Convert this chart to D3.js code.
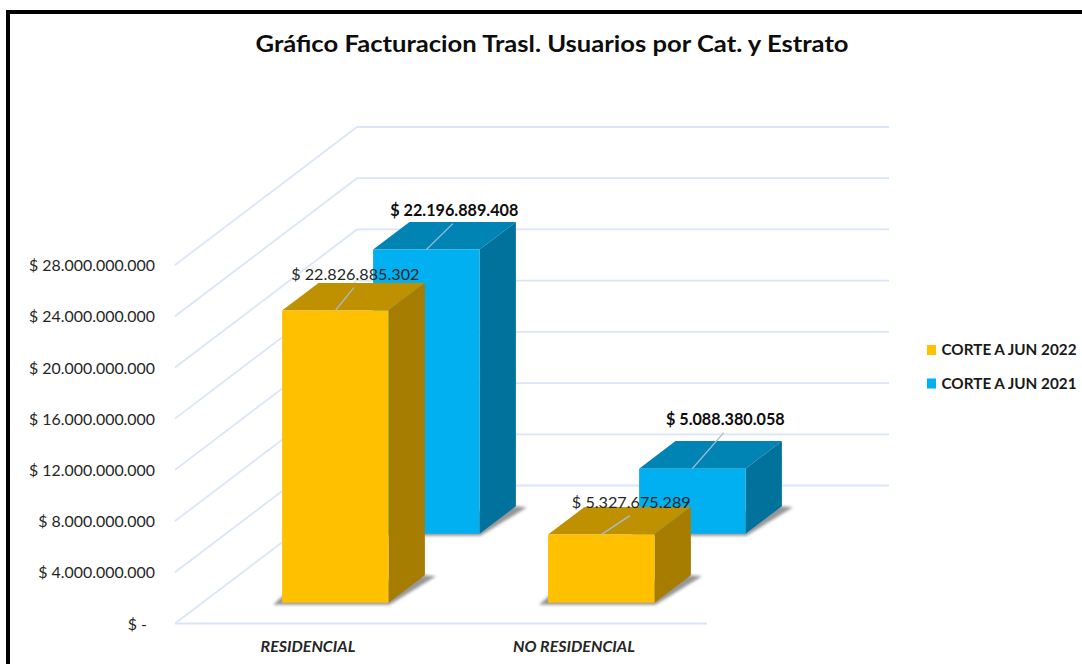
<!DOCTYPE html>
<html>
<head>
<meta charset="utf-8">
<script src="https://cdn.jsdelivr.net/npm/d3@7"></script>
<style>
html,body{margin:0;padding:0;background:#fff;overflow:hidden}
svg{display:block}
text{font-family:Lato,"Open Sans",sans-serif;fill:#262626}
</style>
</head>
<body>
<svg id="chart" width="1082" height="664"></svg>
<script>
const title = "Gráfico Facturacion Trasl. Usuarios por Cat. y Estrato";
const categories = ["RESIDENCIAL", "NO RESIDENCIAL"];
const seriesNames = ["CORTE A JUN 2022", "CORTE A JUN 2021"];
const valuesJun2022 = [22826885302, 5327675289];
const valuesJun2021 = [22196889408, 5088380058];
const tickValues = [0, 4e9, 8e9, 12e9, 16e9, 20e9, 24e9, 28e9];
const seriesColors = ["#FFC000", "#00B0F0"];
const topColors = ["#BF9000", "#0084B4"];
const sideColors = ["#A67D00", "#00729C"];

const svg = d3.select("#chart");
const plot = {left: 175, right: 707, floor: 623.5, top: 265, depthX: 182, depthY: 138};
const depthFill = 0.4, widthFill = 0.4;

const x = d3.scaleBand().domain(categories).range([plot.left, plot.right]);
const z = d3.scaleBand().domain(seriesNames).range([0, 1]);
const y = d3.scaleLinear().domain([0, 28e9]).range([plot.floor, plot.top]);

// 3D oblique projection: x pixel, value, depth fraction
const proj = (px, v, d) => [px + plot.depthX * d, y(v) - plot.depthY * d];
const pts = a => a.map(p => p.join(",")).join(" ");

// frame
svg.append("path").attr("d", "M8,664V12H1082").attr("fill", "none").attr("stroke", "#000").attr("stroke-width", 4);

// title
svg.append("text").attr("x", 552).attr("y", 52).attr("text-anchor", "middle")
  .attr("font-size", 23).attr("font-weight", 700).style("fill", "#0d0d0d")
  .attr("textLength", 593).attr("lengthAdjust", "spacingAndGlyphs").text(title);

// gridlines
const gridColor = "#DAE6F7";
const grid = svg.append("g").attr("fill", "none").attr("stroke", gridColor).attr("stroke-width", 1.8);
tickValues.forEach(t => {
  const a = proj(plot.left, t, 0), b = proj(plot.left, t, 1), c = proj(plot.right, t, 1);
  grid.append("polyline").attr("points", pts([a, b, c]));
});
grid.append("line").attr("x1", plot.left).attr("x2", plot.right).attr("y1", y(0)).attr("y2", y(0));

// y axis
const fmt = d3.formatLocale({decimal: ",", thousands: ".", grouping: [3], currency: ["$", ""]}).format(",.0f");
const yAxis = svg.append("g").attr("transform", "translate(155,0.5)")
  .call(d3.axisLeft(y).tickValues(tickValues).tickSize(0).tickPadding(0)
    .tickFormat(v => v === 0 ? "$ -" : "$ " + fmt(v)));
yAxis.select(".domain").remove();
yAxis.selectAll("text").attr("font-size", 15.9).style("font-family", "Lato").attr("fill", "#262626").attr("dy", "0.32em")
  .attr("dx", d => d === 0 ? -8 : 0);

// x axis
const xAxis = svg.append("g").attr("transform", `translate(0,${plot.floor})`)
  .call(d3.axisBottom(x).tickSize(0).tickPadding(0));
xAxis.select(".domain").remove();
xAxis.selectAll("text").attr("y", 28).attr("dy", 0).attr("font-size", 16)
  .attr("font-weight", 700).attr("font-style", "italic").style("font-family", "Lato").attr("fill", "#0d0d0d");

// bars, back series first
const bars = [];
seriesNames.forEach((s, si) => {
  const vals = si === 0 ? valuesJun2022 : valuesJun2021;
  categories.forEach((c, ci) => bars.push({s, si, c, ci, v: vals[ci]}));
});
const offsets = {"0-0": [20, -36], "1-0": [28, -39], "0-1": [30, -32], "1-1": [33, -49]};

const defs = svg.append("defs");
defs.append("filter").attr("id", "soft").attr("x", "-20%").attr("y", "-20%").attr("width", "140%").attr("height", "140%")
  .append("feGaussianBlur").attr("stdDeviation", 1.6);

const barW = x.bandwidth() * widthFill, barD = z.bandwidth() * depthFill;
const layer = svg.append("g");
[...bars].sort((a, b) => b.si - a.si).forEach(b => {
  const x0 = x(b.c) + (x.bandwidth() - barW) / 2, x1 = x0 + barW;
  const d0 = z(b.s) + (z.bandwidth() - barD) / 2, d1 = d0 + barD;
  const g = layer.append("g");
  const fb = proj(x0, 0, d0), rb = proj(x1, 0, d0), rbb = proj(x1, 0, d1);
  g.append("polygon").attr("filter", "url(#soft)").attr("fill", "#969696")
    .attr("points", pts([[fb[0] - 9, fb[1] + 2], [fb[0] + 2, fb[1] - 8], [rbb[0], rbb[1]], [rbb[0] + 11, rbb[1] + 1], [rb[0] + 1, rb[1] + 2]]));
  g.append("polygon").attr("fill", topColors[b.si])
    .attr("points", pts([proj(x0, b.v, d0), proj(x1, b.v, d0), proj(x1, b.v, d1), proj(x0, b.v, d1)]));
  g.append("polygon").attr("fill", sideColors[b.si])
    .attr("points", pts([proj(x1, 0, d0), proj(x1, b.v, d0), proj(x1, b.v, d1), proj(x1, 0, d1)]));
  g.append("polygon").attr("fill", seriesColors[b.si])
    .attr("points", pts([proj(x0, 0, d0), proj(x1, 0, d0), proj(x1, b.v, d0), proj(x0, b.v, d0)]));
});

// leaders + labels
const labels = svg.append("g");
bars.forEach(b => {
  const x0 = x(b.c) + (x.bandwidth() - barW) / 2;
  const d0 = z(b.s) + (z.bandwidth() - barD) / 2;
  const a = proj(x0 + barW / 2, b.v, d0);
  const [dx, dy] = offsets[b.si + "-" + b.ci];
  labels.append("line").attr("x1", a[0]).attr("y1", a[1]).attr("x2", a[0] + dx - 1.5).attr("y2", a[1] + dy + 13)
    .attr("stroke", "#A6BDD7").attr("stroke-width", 1.3);
  labels.append("text").attr("x", a[0] + dx).attr("y", a[1] + dy).attr("dy", "0.35em").attr("text-anchor", "middle")
    .attr("font-size", 16.2).attr("font-weight", b.si === 1 ? 700 : 400)
    .style("fill", b.si === 1 ? "#0d0d0d" : "#262626").text("$ " + fmt(b.v));
});

// legend
const legend = svg.append("g");
seriesNames.forEach((s, i) => {
  const ly = 350 + i * 33.5;
  legend.append("rect").attr("x", 927).attr("y", ly - 5).attr("width", 9).attr("height", 10).attr("fill", seriesColors[i]);
  legend.append("text").attr("x", 941.5).attr("y", ly).attr("dy", "0.35em").attr("font-size", 15).attr("font-weight", 700)
    .style("fill", "#1a1a1a").attr("textLength", 135).attr("lengthAdjust", "spacingAndGlyphs").text(s);
});
</script>
</body>
</html>
